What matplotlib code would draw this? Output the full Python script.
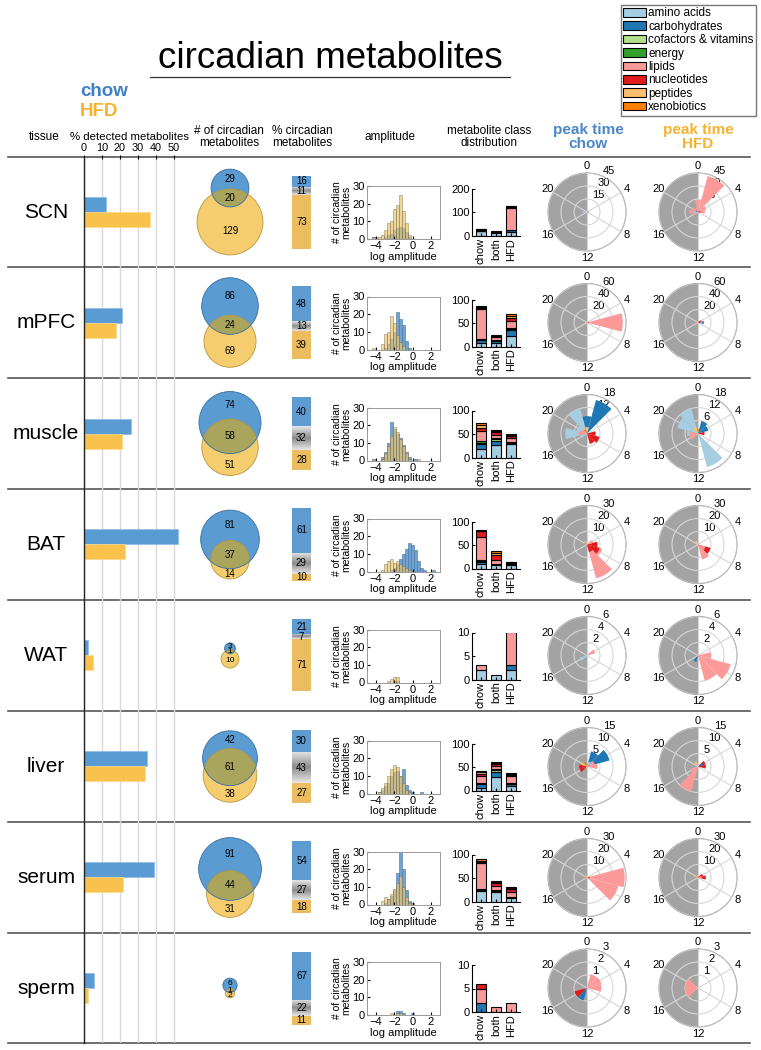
import numpy as np
import matplotlib.pyplot as plt
from matplotlib.patches import Circle, Patch

plt.rcParams['font.family'] = ['Liberation Sans', 'DejaVu Sans']

tissues = ['SCN', 'mPFC', 'muscle', 'BAT', 'WAT', 'liver', 'serum', 'sperm']

# % detected metabolites that are circadian
pct_detected_chow = [12, 21, 26, 52, 2.4, 35, 39, 5.4]
pct_detected_hfd = [36.5, 18, 21, 22.5, 5, 34, 21.7, 2.4]

# venn counts
n_chow_only = [29, 86, 74, 81, 3, 42, 91, 6]
n_both = [20, 24, 58, 37, 1, 61, 44, 1]
n_hfd_only = [129, 69, 51, 14, 10, 38, 31, 2]

# % circadian metabolites
pct_chow = [16, 48, 40, 61, 21, 30, 54, 67]
pct_both = [11, 13, 32, 29, 7, 43, 27, 22]
pct_hfd = [73, 39, 28, 10, 71, 27, 18, 11]

# amplitude histograms (log amplitude, bins of 1/3 from -4.5 to 2.5)
amp_edges = np.linspace(-4.5, 2.5, 22)
amp_chow = [
    [1, 0, 0, 0, 1, 2, 3, 5, 6, 7, 6, 4, 1, 0, 0, 0, 0, 0, 0, 0, 0],
    [0, 0, 0, 0, 1, 3, 6, 10, 21, 17, 14, 5, 1, 0, 0, 0, 0, 0, 0, 0, 0],
    [1, 0, 0, 2, 5, 10, 22, 18, 15, 13, 9, 5, 2, 0, 1, 0, 0, 0, 0, 0, 0],
    [0, 0, 0, 0, 0, 0, 1, 2, 4, 7, 10, 13, 16, 15, 12, 6, 2, 1, 0, 0, 1],
    [0, 0, 0, 0, 0, 0, 0, 1, 1, 0, 0, 0, 0, 0, 0, 0, 0, 0, 0, 0, 0],
    [0, 0, 1, 2, 4, 6, 10, 12, 13, 10, 14, 5, 2, 1, 0, 0, 1, 0, 0, 0, 0],
    [0, 0, 0, 0, 1, 3, 5, 8, 18, 30, 20, 8, 2, 1, 0, 0, 0, 0, 0, 0, 0],
    [0, 0, 0, 0, 0, 0, 0, 0, 2, 2, 1, 0, 0, 1, 0, 0, 0, 0, 0, 0, 0],
]
amp_hfd = [
    [1, 1, 1, 2, 5, 9, 10, 17, 19, 25, 16, 9, 2, 0, 0, 0, 0, 0, 0, 0, 0],
    [1, 0, 0, 3, 9, 10, 19, 15, 8, 4, 2, 0, 0, 0, 0, 0, 0, 0, 0, 0, 0],
    [1, 0, 0, 1, 4, 8, 14, 19, 16, 12, 8, 4, 1, 0, 0, 1, 0, 0, 0, 0, 0],
    [0, 0, 0, 1, 4, 6, 7, 5, 6, 4, 3, 2, 1, 0, 0, 0, 0, 0, 0, 0, 0],
    [0, 0, 0, 0, 0, 1, 2, 3, 3, 0, 0, 0, 0, 0, 0, 0, 0, 0, 0, 0, 0],
    [0, 0, 1, 3, 6, 10, 14, 16, 15, 10, 6, 2, 1, 0, 0, 0, 0, 0, 0, 0, 0],
    [0, 0, 0, 2, 4, 3, 6, 9, 12, 16, 10, 4, 1, 1, 0, 0, 0, 0, 0, 0, 0],
    [0, 0, 0, 0, 0, 0, 1, 0, 1, 1, 0, 0, 0, 0, 0, 0, 0, 0, 0, 0, 0],
]

# metabolite class distribution (counts per class)
class_names = ['amino acids', 'carbohydrates', 'cofactors & vitamins', 'energy',
               'lipids', 'nucleotides', 'peptides', 'xenobiotics']
class_colors = ['#a6cee3', '#1f78b4', '#b2df8a', '#33a02c',
                '#fb9a99', '#e31a1c', '#fdbf6f', '#ff7f00']
class_chow = [
    [20, 2, 1, 1, 3, 1, 1, 0],
    [8, 5, 1, 1, 64, 3, 2, 2],
    [18, 10, 3, 4, 22, 6, 7, 4],
    [10, 4, 3, 1, 48, 13, 1, 1],
    [2, 0, 0, 0, 1, 0, 0, 0],
    [5, 8, 2, 1, 14, 6, 3, 3],
    [22, 3, 1, 1, 55, 3, 2, 4],
    [0, 2, 0, 0, 3, 1, 0, 0],
]
class_both = [
    [13, 2, 0, 0, 3, 1, 1, 0],
    [8, 4, 1, 1, 7, 1, 1, 1],
    [27, 8, 4, 2, 7, 6, 2, 2],
    [8, 2, 0, 0, 8, 10, 6, 3],
    [1, 0, 0, 0, 0, 0, 0, 0],
    [28, 12, 4, 2, 7, 4, 2, 2],
    [20, 3, 1, 0, 10, 5, 3, 2],
    [0, 0, 0, 0, 1, 0, 0, 0],
]
class_hfd = [
    [15, 10, 1, 1, 94, 2, 3, 3],
    [22, 13, 2, 3, 15, 6, 3, 5],
    [28, 2, 1, 1, 10, 3, 2, 4],
    [7, 2, 0, 0, 1, 2, 1, 1],
    [2, 1, 0, 0, 7, 0, 0, 0],
    [10, 3, 1, 1, 15, 4, 2, 2],
    [8, 1, 1, 0, 10, 6, 3, 2],
    [0, 0, 0, 0, 2, 0, 0, 0],
]
class_ymax = [200, 100, 100, 100, 10, 100, 100, 10]

# peak time roses: (class, bin centre hour, count), 2 h bins
peak_rmax = [45, 60, 18, 30, 6, 15, 30, 3]
peak_chow = [
    [('amino acids', 18, 5), ('amino acids', 16, 3), ('nucleotides', 6, 2), ('xenobiotics', 4, 1)],
    [('lipids', 6, 55), ('nucleotides', 6, 3), ('peptides', 4, 2), ('xenobiotics', 22, 2)],
    [('carbohydrates', 2, 16), ('carbohydrates', 0, 8), ('amino acids', 18, 10), ('amino acids', 22, 12),
     ('amino acids', 20, 5), ('amino acids', 16, 3), ('lipids', 18, 4), ('lipids', 20, 3),
     ('nucleotides', 8, 6), ('nucleotides', 10, 5), ('nucleotides', 6, 4), ('peptides', 0, 3),
     ('xenobiotics', 22, 2)],
    [('lipids', 10, 27), ('lipids', 8, 12), ('lipids', 6, 8), ('lipids', 4, 5), ('nucleotides', 8, 10),
     ('nucleotides', 6, 8), ('nucleotides', 10, 6), ('peptides', 22, 3), ('xenobiotics', 20, 2)],
    [('amino acids', 16, 1.2), ('lipids', 4, 1.3)],
    [('carbohydrates', 4, 9), ('carbohydrates', 2, 6), ('lipids', 6, 4), ('lipids', 4, 3),
     ('amino acids', 2, 2), ('nucleotides', 16, 3), ('nucleotides', 18, 3), ('peptides', 20, 2),
     ('xenobiotics', 22, 2)],
    [('lipids', 6, 29), ('lipids', 8, 25), ('nucleotides', 6, 2), ('peptides', 20, 3),
     ('xenobiotics', 18, 2)],
    [('lipids', 2, 1.1), ('lipids', 4, 1.15), ('lipids', 6, 1.1), ('nucleotides', 16, 1.0),
     ('carbohydrates', 14, 1.0)],
]
peak_hfd = [
    [('lipids', 2, 43), ('lipids', 0, 14), ('lipids', 4, 10), ('lipids', 6, 8), ('lipids', 18, 10),
     ('lipids', 20, 8), ('lipids', 16, 6), ('lipids', 22, 5), ('amino acids', 18, 5), ('amino acids', 16, 3),
     ('nucleotides', 6, 3), ('nucleotides', 4, 2), ('carbohydrates', 20, 3), ('xenobiotics', 8, 2)],
    [('carbohydrates', 6, 9), ('amino acids', 6, 6), ('nucleotides', 4, 5), ('nucleotides', 6, 4),
     ('lipids', 18, 4), ('lipids', 20, 3), ('peptides', 18, 2)],
    [('amino acids', 10, 16), ('amino acids', 22, 12), ('amino acids', 20, 10), ('amino acids', 18, 5),
     ('carbohydrates', 2, 6), ('carbohydrates', 4, 5), ('lipids', 16, 4), ('lipids', 18, 4),
     ('nucleotides', 6, 3), ('peptides', 22, 3), ('xenobiotics', 0, 2)],
    [('nucleotides', 8, 10), ('lipids', 10, 12), ('lipids', 8, 6), ('peptides', 22, 3)],
    [('lipids', 8, 5.2), ('lipids', 10, 4), ('lipids', 6, 2), ('carbohydrates', 14, 1)],
    [('lipids', 14, 10), ('lipids', 16, 3), ('nucleotides', 6, 3), ('nucleotides', 4, 3),
     ('carbohydrates', 4, 2), ('peptides', 22, 2)],
    [('nucleotides', 6, 6), ('nucleotides', 4, 4), ('lipids', 6, 3), ('peptides', 20, 3),
     ('xenobiotics', 18, 2)],
    [('lipids', 16, 1), ('lipids', 18, 1), ('lipids', 20, 1)],
]

blue = '#5a9bd3'
orange = '#f9c24d'

W, H = 761, 1050
fig = plt.figure(figsize=(W / 100, H / 100), dpi=100)


def box(x0, y0, w, h, **kw):
    # axes from a pixel box (top-left origin)
    return fig.add_axes([x0 / W, 1 - (y0 + h) / H, w / W, h / H], **kw)


row_edges = [157, 267, 378, 489, 600, 711, 822, 933, 1043]
row_mid = [(a + b) / 2 for a, b in zip(row_edges[:-1], row_edges[1:])]

# ---- background layer: title, headers, lines, venns
base = box(0, 0, W, H)
base.set_xlim(0, W)
base.set_ylim(H, 0)
base.axis('off')

base.text(330, 68, 'circadian metabolites', fontsize=26.5, ha='center', va='baseline')
base.plot([150, 510], [77, 77], color='#333333', lw=0.9)
base.text(80, 92, 'chow', fontsize=13.5, fontweight='bold', color='#3f7fc7', va='center')
base.text(80, 112, 'HFD', fontsize=13.5, fontweight='bold', color='#f7b12e', va='center')

hdr_y = 137
base.text(44, hdr_y, 'tissue', fontsize=8.5, ha='center', va='center')
base.text(129, hdr_y, '% detected metabolites', fontsize=8.2, ha='center', va='center')
base.text(229, hdr_y, '# of circadian\nmetabolites', fontsize=8.5, ha='center', va='center', linespacing=1.1)
base.text(302, hdr_y, '% circadian\nmetabolites', fontsize=8.5, ha='center', va='center', linespacing=1.1)
base.text(390, hdr_y, 'amplitude', fontsize=8.5, ha='center', va='center')
base.text(489, hdr_y, 'metabolite class\ndistribution', fontsize=8.5, ha='center', va='center', linespacing=1.1)
base.text(588, hdr_y, 'peak time\nchow', fontsize=11, fontweight='bold', color='#4a86c8',
          ha='center', va='center', linespacing=1.05)
base.text(698, hdr_y, 'peak time\nHFD', fontsize=11, fontweight='bold', color='#f7b12e',
          ha='center', va='center', linespacing=1.05)

for y in row_edges:
    base.plot([8, 750], [y, y], color='#555555', lw=1.2)

for i, t in enumerate(tissues):
    base.text(46, row_mid[i], t, fontsize=15, ha='center', va='center')


def lens_area(r1, r2, d):
    if d >= r1 + r2:
        return 0.0
    if d <= abs(r1 - r2):
        return np.pi * min(r1, r2) ** 2
    a1 = r1 ** 2 * np.arccos((d * d + r1 * r1 - r2 * r2) / (2 * d * r1))
    a2 = r2 ** 2 * np.arccos((d * d + r2 * r2 - r1 * r1) / (2 * d * r2))
    a3 = 0.5 * np.sqrt((-d + r1 + r2) * (d + r1 - r2) * (d - r1 + r2) * (d + r1 + r2))
    return a1 + a2 - a3


def venn_distance(r1, r2, target):
    lo, hi = abs(r1 - r2), r1 + r2
    for _ in range(60):
        mid = (lo + hi) / 2
        if lens_area(r1, r2, mid) > target:
            lo = mid
        else:
            hi = mid
    return (lo + hi) / 2


k = 2.7  # px per sqrt(count)
vx = 230
for i in range(len(tissues)):
    r1 = k * np.sqrt(n_chow_only[i] + n_both[i])
    r2 = k * np.sqrt(n_hfd_only[i] + n_both[i])
    d = venn_distance(r1, r2, np.pi * k * k * n_both[i])
    top = row_mid[i] - (r1 + d + r2) / 2
    c1 = top + r1
    c2 = c1 + d
    hfd_c = Circle((vx, c2), r2, facecolor='#f5cd6e', edgecolor='none')
    chow_c = Circle((vx, c1), r1, facecolor='#5a9bd2', edgecolor='none')
    base.add_patch(hfd_c)
    base.add_patch(chow_c)
    ov = Circle((vx, c2), r2, facecolor='#aaa55c', edgecolor='none')
    base.add_patch(ov)
    ov.set_clip_path(chow_c)
    base.add_patch(Circle((vx, c2), r2, fill=False, edgecolor='#b8953f', lw=0.6))
    base.add_patch(Circle((vx, c1), r1, fill=False, edgecolor='#3b6f9f', lw=0.6))
    fs = 7 if r1 > 10 else 6
    base.text(vx, (c1 - r1 + c2 - r2) / 2, str(n_chow_only[i]), fontsize=fs, ha='center', va='center')
    base.text(vx, (c2 - r2 + c1 + r1) / 2, str(n_both[i]), fontsize=fs, ha='center', va='center')
    base.text(vx, (c1 + r1 + c2 + r2) / 2, str(n_hfd_only[i]), fontsize=fs, ha='center', va='center')

# ---- % detected metabolites
axd = box(84, 157, 108, 886)
axd.set_facecolor('none')
yc = np.array(row_mid)
axd.barh(yc - 7.5, pct_detected_chow, height=15, color=blue, edgecolor='#8fbbe3', lw=0.5)
axd.barh(yc + 7.5, pct_detected_hfd, height=15, color=orange, edgecolor='#fbd98a', lw=0.5)
axd.set_xlim(0, 60)
axd.set_ylim(1043, 157)
axd.set_xticks([0, 10, 20, 30, 40, 50])
axd.set_yticks([])
axd.xaxis.tick_top()
axd.tick_params(axis='x', length=3, direction='inout', labelsize=7.8, pad=1.5, width=0.8)
axd.xaxis.grid(True, color='#d8d8d8', lw=1)
axd.set_axisbelow(True)
for s in ['top', 'right', 'bottom']:
    axd.spines[s].set_visible(False)
axd.spines['left'].set_color('#222222')
axd.spines['left'].set_linewidth(1)

# ---- per row panels
grad = np.abs(np.linspace(-1, 1, 40))[:, None]
for i in range(len(tissues)):
    y = row_mid[i]

    # % circadian stacked bar
    axp = box(292, y - 36.5, 19, 73)
    segs = [(pct_chow[i], '#5e9bd1'), (pct_both[i], None), (pct_hfd[i], '#ebbd5e')]
    b = 0
    for val, col in segs:
        if col is None:
            axp.imshow(0.55 + 0.35 * grad, cmap='gray', vmin=0, vmax=1, aspect='auto',
                       extent=(-0.5, 0.5, b + val, b))
        else:
            axp.bar(0, val, bottom=b, width=1, color=col)
        axp.text(0, b + val / 2, str(val), fontsize=7, ha='center', va='center')
        b += val
    axp.set_xlim(-0.5, 0.5)
    axp.set_ylim(100, 0)
    axp.axis('off')

    # amplitude histogram
    axh = box(367, y - 26, 73, 53)
    axh.hist(amp_edges[:-1], bins=amp_edges, weights=amp_chow[i], color='#6fa3d6',
             edgecolor='#4a6f93', lw=0.4)
    axh.hist(amp_edges[:-1], bins=amp_edges, weights=amp_hfd[i], color='#e9c46a', alpha=0.7,
             edgecolor='#6e6450', lw=0.4)
    axh.set_xlim(-5, 3)
    axh.set_ylim(0, 30)
    axh.set_xticks([-4, -2, 0, 2])
    axh.set_yticks([0, 10, 20, 30])
    axh.tick_params(labelsize=8, length=2, direction='in', pad=1.5)
    for s in axh.spines.values():
        s.set_color('#999999')
        s.set_linewidth(0.7)
    axh.set_xlabel('log amplitude', fontsize=8, labelpad=0.5)
    axh.set_ylabel('# of circadian\nmetabolites', fontsize=7.5, labelpad=1, linespacing=0.95)

    # metabolite class distribution
    axc = box(472, y - 23, 48, 47)
    for j, counts in enumerate([class_chow[i], class_both[i], class_hfd[i]]):
        b = 0
        for c, val in enumerate(counts):
            if val > 0:
                axc.bar(j + 1, val, bottom=b, width=0.72, color=class_colors[c],
                        edgecolor='black', lw=0.8)
                b += val
    axc.set_xlim(0.4, 3.6)
    axc.set_ylim(0, class_ymax[i])
    axc.set_yticks([0, class_ymax[i] / 2, class_ymax[i]])
    axc.set_yticklabels([0, int(class_ymax[i] / 2), class_ymax[i]])
    axc.set_xticks([1, 2, 3])
    axc.set_xticklabels(['chow', 'both', 'HFD'], rotation=90)
    axc.tick_params(labelsize=8, length=2, direction='in', pad=1.5)
    axc.spines['top'].set_visible(False)
    axc.spines['right'].set_visible(False)

    # peak time roses
    for cx, pdata in [(587, peak_chow[i]), (698, peak_hfd[i])]:
        axr = box(cx - 39, y - 39, 78, 78, projection='polar')
        axr.set_theta_zero_location('N')
        axr.set_theta_direction(-1)
        rmax = peak_rmax[i]
        axr.bar(1.5 * np.pi, rmax, width=np.pi, color='#a3a3a3', zorder=0.5)
        for cname, hr, val in pdata:
            axr.bar(np.radians(hr * 15), val, width=np.radians(30),
                    color=class_colors[class_names.index(cname)], zorder=10 - val / rmax)
        axr.set_ylim(0, rmax)
        axr.set_xticks(np.radians(np.arange(0, 360, 60)))
        axr.set_xticklabels(['0', '4', '8', '12', '16', '20'])
        ticks = [rmax / 3, 2 * rmax / 3, rmax]
        axr.set_yticks(ticks)
        axr.set_yticklabels(['%g' % t for t in ticks])
        axr.set_rlabel_position(24)
        axr.tick_params(axis='x', labelsize=8, pad=-5.5)
        axr.tick_params(axis='y', labelsize=8, pad=0)
        axr.grid(True, color='#d6d6d6', lw=0.8)
        axr.set_axisbelow(False)
        axr.spines['polar'].set_color('#a0a0a0')
        axr.spines['polar'].set_linewidth(0.8)

# legend
handles = [Patch(facecolor=c, edgecolor='black', lw=0.8) for c in class_colors]
fig.legend(handles, class_names, loc='upper right', bbox_to_anchor=(756 / W, 1 - 5 / H),
           fontsize=8.5, frameon=True, fancybox=False, edgecolor='#555555',
           handlelength=1.9, handleheight=0.75, handletextpad=0.2, labelspacing=0.12,
           borderpad=0.2, borderaxespad=0)

fig.savefig('out.png', dpi=100)
